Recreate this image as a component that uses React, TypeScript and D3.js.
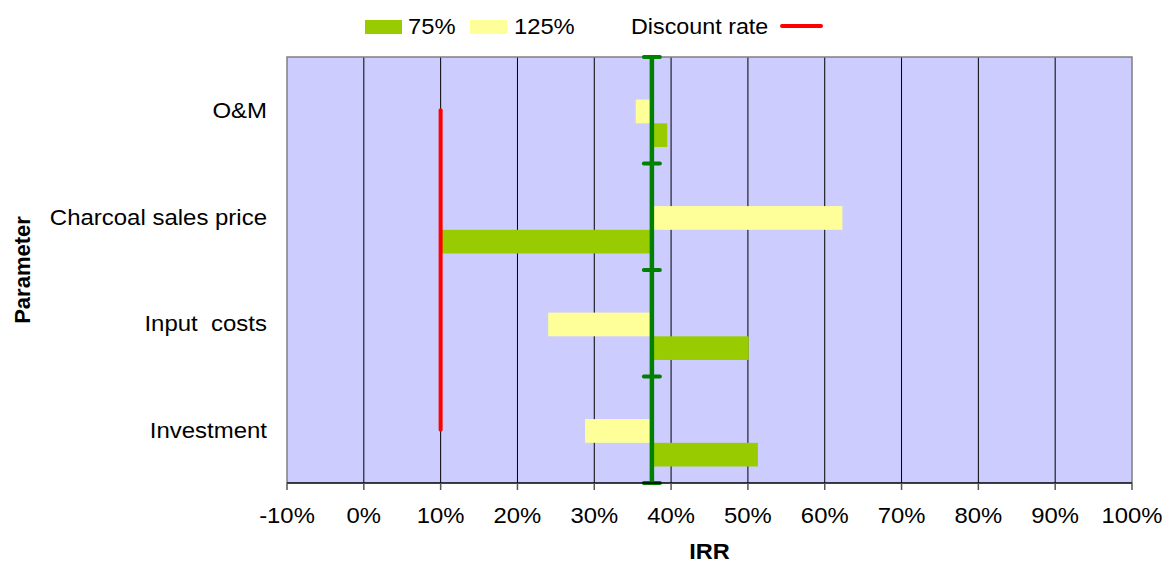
import React from "react";
import * as d3 from "d3";

// Sensitivity of IRR to ±25% changes in each parameter
const categories = ["O&M", "Charcoal sales price", "Input  costs", "Investment"];
const baseIRR = 0.375;
const irr125 = [0.354, 0.623, 0.24, 0.288];
const irr75 = [0.395, 0.101, 0.501, 0.513];
const discountRate = 0.1;
const xTicks = [-0.1, 0, 0.1, 0.2, 0.3, 0.4, 0.5, 0.6, 0.7, 0.8, 0.9, 1.0];

const W = 1166;
const H = 563;
const M = { left: 287, right: 1132, top: 57, bottom: 483 };
const FONT = "'Liberation Sans', Arial, sans-serif";

const C_BG = "#CCCCFF";
const C_75 = "#99CC00";
const C_125 = "#FFFF99";
const C_BASE = "#008000";
const C_RATE = "#FF0000";

// Text drawn slightly widened, anchored at (x, y)
function T(props: {
  x: number;
  y: number;
  size: number;
  anchor?: "start" | "middle" | "end";
  sx?: number;
  bold?: boolean;
  children: React.ReactNode;
}) {
  const { x, y, size, anchor = "start", sx = 1.07, bold = false, children } = props;
  return (
    <text
      transform={`translate(${x},${y}) scale(${sx},1)`}
      textAnchor={anchor}
      fontSize={size}
      fontWeight={bold ? "bold" : "normal"}
      fill="#000"
      style={{ whiteSpace: "pre" }}
    >
      {children}
    </text>
  );
}

export default function App() {
  const x = d3.scaleLinear().domain([-0.1, 1.0]).range([M.left, M.right]);
  const y = d3.scaleBand<string>().domain(categories).range([M.top, M.bottom]).padding(0);
  const bw = y.bandwidth();
  const sub = d3
    .scaleBand<string>()
    .domain(["125%", "75%"])
    .range([bw * 0.4, bw * 0.845])
    .padding(0);
  const fmt = (v: number) => `${Math.round(v * 100)}%`;

  const bar = (cat: string, v: number, key: string, color: string) => {
    const x0 = x(baseIRR);
    const x1 = x(v);
    return (
      <rect
        key={cat + key}
        x={Math.min(x0, x1)}
        y={(y(cat) as number) + (sub(key) as number)}
        width={Math.abs(x1 - x0)}
        height={sub.bandwidth()}
        fill={color}
      />
    );
  };

  const boundaries = categories.map((c) => y(c) as number).concat([M.bottom]);
  const xb = x(baseIRR);

  return (
    <svg
      width={W}
      height={H}
      style={{ position: "absolute", left: 0, top: 0, background: "#fff" }}
      fontFamily={FONT}
    >
      {/* plot area */}
      <rect x={M.left} y={M.top} width={M.right - M.left} height={M.bottom - M.top} fill={C_BG} />
      {xTicks.slice(1, -1).map((t) => (
        <line key={t} x1={x(t)} x2={x(t)} y1={M.top} y2={M.bottom} stroke="#000" strokeWidth={1} />
      ))}
      <path
        d={`M${M.left},${M.bottom} V${M.top} H${M.right} V${M.bottom}`}
        fill="none"
        stroke="#808080"
        strokeWidth={1.5}
      />

      {/* bars */}
      {categories.map((c, i) => bar(c, irr125[i], "125%", C_125))}
      {categories.map((c, i) => bar(c, irr75[i], "75%", C_75))}

      {/* discount rate */}
      <line
        x1={x(discountRate)}
        x2={x(discountRate)}
        y1={(y(categories[0]) as number) + bw / 2}
        y2={(y(categories[categories.length - 1]) as number) + bw / 2}
        stroke={C_RATE}
        strokeWidth={4}
        strokeLinecap="round"
      />

      {/* base case IRR */}
      <line x1={xb} x2={xb} y1={M.top} y2={M.bottom} stroke={C_BASE} strokeWidth={4.5} />
      {boundaries.map((b, i) => (
        <line
          key={i}
          x1={xb - 8}
          x2={xb + 8}
          y1={b}
          y2={b}
          stroke={C_BASE}
          strokeWidth={4}
          strokeLinecap="round"
        />
      ))}

      {/* x axis */}
      <line x1={M.left} x2={M.right} y1={M.bottom} y2={M.bottom} stroke="#000" strokeWidth={1.5} />
      {xTicks.map((t) => (
        <g key={t}>
          <line x1={x(t)} x2={x(t)} y1={M.bottom} y2={M.bottom + 7} stroke="#555" strokeWidth={1.5} />
          <T x={x(t)} y={523} size={22.5} anchor="middle" sx={1.06}>
            {fmt(t)}
          </T>
        </g>
      ))}
      <T x={(M.left + M.right) / 2} y={559} size={22} anchor="middle" bold>
        IRR
      </T>

      {/* y axis */}
      {categories.map((c) => (
        <T key={c} x={267} y={(y(c) as number) + bw / 2 + 8} size={22} anchor="end" sx={1.09}>
          {c}
        </T>
      ))}
      <text
        transform={`translate(30,${(M.top + M.bottom) / 2}) rotate(-90)`}
        textAnchor="middle"
        fontSize={22}
        fontWeight="bold"
      >
        Parameter
      </text>

      {/* legend */}
      <rect x={365} y={20} width={37} height={14} fill={C_75} />
      <T x={408} y={34} size={22} sx={1.08}>75%</T>
      <rect x={470} y={20} width={37} height={14} fill={C_125} />
      <T x={514} y={34} size={22} sx={1.08}>125%</T>
      <T x={631} y={34} size={22} sx={1.06}>Discount rate</T>
      <line x1={782} x2={821} y1={26} y2={26} stroke={C_RATE} strokeWidth={4} strokeLinecap="round" />
    </svg>
  );
}
